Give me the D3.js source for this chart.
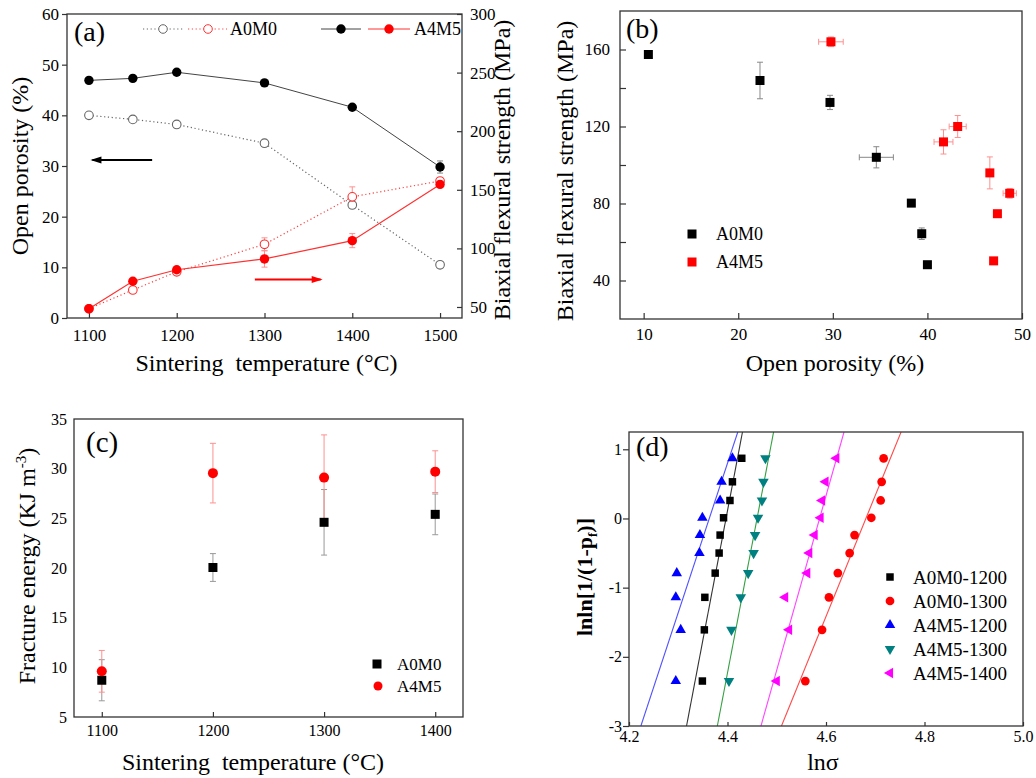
<!DOCTYPE html>
<html><head><meta charset="utf-8">
<script src="https://cdn.jsdelivr.net/npm/d3@7"></script>
<style>body{margin:0;background:#fff} svg{display:block}</style>
</head><body><svg id="c" width="1036" height="778"></svg>
<script>
// ---------- Panel (a) data ----------
const tempsA = [1100, 1150, 1200, 1300, 1400, 1500];
const porA0M0 = [40.0, 39.2, 38.2, 34.5, 22.3, 10.5];
const porA4M5 = [46.9, 47.3, 48.5, 46.4, 41.6, 29.8];
const porA4M5Err = [0, 0, 0, 0, 0, 1.2];
const strA0M0 = [48.5, 64.5, 80.0, 103.5, 144.0, 157.5];
const strA0M0Err = [1, 1.5, 2, 5.5, 8.5, 2.5];
const strA4M5 = [48.5, 72.0, 81.8, 91.0, 106.6, 154.6];
const strA4M5Err = [1, 2, 2, 7, 6, 2];
const ticksAx = [1100, 1200, 1300, 1400, 1500];
const ticksAyL = [0, 10, 20, 30, 40, 50, 60];
const ticksAyR = [50, 100, 150, 200, 250, 300];
const legendA = ["A0M0", "A4M5"];

// ---------- Panel (b) data ----------
const bPorA0M0 = [10.5, 22.3, 29.7, 34.6, 38.3, 39.4, 40.0];
const bStrA0M0 = [157.4, 143.9, 132.5, 104.0, 80.2, 64.3, 48.2];
const bPorErrA0M0 = [0, 0, 0, 1.8, 0, 0, 0];
const bStrErrA0M0 = [0, 9.5, 3.7, 5.5, 0, 3.0, 0];
const bPorA4M5 = [29.8, 41.7, 43.2, 46.6, 48.7, 47.4, 47.0];
const bStrA4M5 = [164.0, 112.0, 120.0, 95.9, 85.3, 74.7, 50.2];
const bPorErrA4M5 = [1.3, 1.0, 0.9, 0, 0.7, 0, 0];
const bStrErrA4M5 = [2.5, 6.3, 5.7, 8.3, 2.5, 0, 0];
const ticksBx = [10, 20, 30, 40, 50];
const ticksBy = [40, 60, 80, 100, 120, 140, 160];
const labelsBy = [40, 80, 120, 160];

// ---------- Panel (c) data ----------
const tempsC = [1100, 1200, 1300, 1400];
const feA0M0 = [8.7, 20.05, 24.6, 25.4];
const feA0M0Err = [2.07, 1.4, 3.3, 2.05];
const feA4M5 = [9.6, 29.55, 29.1, 29.7];
const feA4M5Err = [2.1, 3.0, 4.3, 2.1];
const ticksCx = [1100, 1200, 1300, 1400];
const ticksCy = [5, 10, 15, 20, 25, 30, 35];

// ---------- Panel (d) data ----------
const weibullY = [-2.35, -1.61, -1.14, -0.79, -0.50, -0.24, 0.01, 0.26, 0.53, 0.87];
const lnS_A0M0_1200 = [4.349, 4.353, 4.354, 4.375, 4.383, 4.385, 4.392, 4.405, 4.410, 4.429];
const lnS_A0M0_1300 = [4.558, 4.592, 4.606, 4.624, 4.648, 4.658, 4.692, 4.711, 4.713, 4.717];
const lnS_A4M5_1200 = [4.295, 4.305, 4.295, 4.297, 4.343, 4.344, 4.349, 4.385, 4.388, 4.410];
const lnS_A4M5_1300 = [4.403, 4.408, 4.427, 4.442, 4.453, 4.456, 4.462, 4.470, 4.473, 4.477];
const lnS_A4M5_1400 = [4.500, 4.525, 4.517, 4.562, 4.566, 4.577, 4.589, 4.592, 4.599, 4.621];
const seriesD = ["A0M0-1200", "A0M0-1300", "A4M5-1200", "A4M5-1300", "A4M5-1400"];
const weibullM = [37.4, 17.5, 21.6, 37.2, 25.2];      // fitted slope
const weibullX0 = [4.397, 4.681, 4.363, 4.460, 4.587]; // lnσ at y = 0
const ticksDx = [4.2, 4.4, 4.6, 4.8, 5.0];
const ticksDy = [-3, -2, -1, 0, 1];

// ---------- drawing ----------
const FONT = '"Liberation Serif","Times New Roman",Times,serif';
const svg = d3.select('#c');
svg.append('rect').attr('width', 1036).attr('height', 778).attr('fill', '#fff');

function frame(x0, y0, x1, y1) {
  svg.append('rect').attr('x', x0).attr('y', y0).attr('width', x1 - x0).attr('height', y1 - y0)
    .attr('fill', 'none').attr('stroke', '#333').attr('stroke-width', 1.3);
}
function styleAxis(sel, size) {
  sel.attr('font-family', FONT);
  sel.select('.domain').remove();
  sel.selectAll('.tick line').attr('stroke', '#333').attr('stroke-width', 1.2);
  sel.selectAll('.tick text').attr('font-family', FONT).attr('font-size', size).attr('fill', '#000');
}
function txt(x, y, s, size, opts = {}) {
  const t = svg.append('text').attr('x', x).attr('y', y).attr('font-family', FONT)
    .attr('font-size', size).attr('fill', '#000').style('white-space', 'pre').text(s);
  if (opts.anchor) t.attr('text-anchor', opts.anchor);
  if (opts.rot) t.attr('transform', `rotate(${opts.rot},${x},${y})`);
  if (opts.weight) t.attr('font-weight', opts.weight);
  return t;
}
function vErr(x, yTop, yBot, color, cap = 3) {
  svg.append('line').attr('x1', x).attr('x2', x).attr('y1', yTop).attr('y2', yBot).attr('stroke', color).attr('stroke-width', 1);
  [yTop, yBot].forEach(y => svg.append('line').attr('x1', x - cap).attr('x2', x + cap).attr('y1', y).attr('y2', y).attr('stroke', color).attr('stroke-width', 1));
}
function hErr(xL, xR, y, color, cap = 3) {
  svg.append('line').attr('x1', xL).attr('x2', xR).attr('y1', y).attr('y2', y).attr('stroke', color).attr('stroke-width', 1);
  [xL, xR].forEach(x => svg.append('line').attr('x1', x).attr('x2', x).attr('y1', y - cap).attr('y2', y + cap).attr('stroke', color).attr('stroke-width', 1));
}
function arrow(x1, y1, x2, y2, color) {
  svg.append('line').attr('x1', x1).attr('y1', y1).attr('x2', x2).attr('y2', y2).attr('stroke', color).attr('stroke-width', 2);
  const dir = Math.sign(x2 - x1);
  svg.append('path').attr('d', `M${x2 + dir * 2},${y2} L${x2 - dir * 9},${y2 - 3.5} L${x2 - dir * 9},${y2 + 3.5} Z`).attr('fill', color);
}
const plain = d => String(d);

// ===== Panel (a) =====
{
  const L = 67, R = 462, T = 14, B = 318;
  const x = d3.scaleLinear().domain([1075, 1525]).range([L, R]);
  const yl = d3.scaleLinear().domain([0, 60]).range([B, T]);
  const yr = d3.scaleLinear().domain([40.6, 300]).range([B, T]);

  svg.append('g').attr('transform', `translate(0,${B})`)
    .call(d3.axisBottom(x).tickValues(ticksAx).tickFormat(plain).tickSizeInner(-5).tickSizeOuter(0).tickPadding(11))
    .call(s => styleAxis(s, 17));
  svg.append('g').attr('transform', `translate(${L},0)`)
    .call(d3.axisLeft(yl).tickValues(ticksAyL).tickFormat(plain).tickSizeInner(5).tickSizeOuter(0).tickPadding(3))
    .call(s => styleAxis(s, 17));
  svg.append('g').attr('transform', `translate(${R},0)`)
    .call(d3.axisRight(yr).tickValues(ticksAyR).tickFormat(plain).tickSizeInner(-5).tickSizeOuter(0).tickPadding(8))
    .call(s => styleAxis(s, 17));
  frame(L, T, R, B);

  const lineL = d3.line().x((d, i) => x(tempsA[i])).y(d => yl(d));
  const lineR = d3.line().x((d, i) => x(tempsA[i])).y(d => yr(d));
  svg.append('path').attr('d', lineL(porA0M0)).attr('fill', 'none').attr('stroke', '#666').attr('stroke-width', 1.2).attr('stroke-dasharray', '1.2,2.6');
  svg.append('path').attr('d', lineR(strA0M0)).attr('fill', 'none').attr('stroke', '#ff4040').attr('stroke-width', 1.2).attr('stroke-dasharray', '1.2,2.6');
  svg.append('path').attr('d', lineL(porA4M5)).attr('fill', 'none').attr('stroke', '#444').attr('stroke-width', 1);
  svg.append('path').attr('d', lineR(strA4M5)).attr('fill', 'none').attr('stroke', '#ff3030').attr('stroke-width', 1.2);

  tempsA.forEach((t, i) => {
    if (porA4M5Err[i]) vErr(x(t), yl(porA4M5[i] + porA4M5Err[i]), yl(porA4M5[i] - porA4M5Err[i]), '#888');
    if (strA0M0Err[i]) vErr(x(t), yr(strA0M0[i] + strA0M0Err[i]), yr(strA0M0[i] - strA0M0Err[i]), '#ff9090');
    if (strA4M5Err[i]) vErr(x(t), yr(strA4M5[i] + strA4M5Err[i]), yr(strA4M5[i] - strA4M5Err[i]), '#ff9090');
  });
  tempsA.forEach((t, i) => {
    svg.append('circle').attr('cx', x(t)).attr('cy', yl(porA0M0[i])).attr('r', 4.3).attr('fill', '#fff').attr('stroke', '#666').attr('stroke-width', 1.1);
    svg.append('circle').attr('cx', x(t)).attr('cy', yr(strA0M0[i])).attr('r', 4.3).attr('fill', '#fff').attr('stroke', '#ff3030').attr('stroke-width', 1.1);
    svg.append('circle').attr('cx', x(t)).attr('cy', yl(porA4M5[i])).attr('r', 4.7).attr('fill', '#000');
    svg.append('circle').attr('cx', x(t)).attr('cy', yr(strA4M5[i])).attr('r', 4.7).attr('fill', '#ff0000');
  });

  // arrows
  arrow(x(1172), yl(31.2), x(1104), yl(31.2), '#000');
  arrow(x(1289), yr(73.5), x(1364), yr(73.5), '#ff0000');

  // legend
  const ly = 29;
  svg.append('line').attr('x1', 143).attr('x2', 184).attr('y1', ly).attr('y2', ly).attr('stroke', '#666').attr('stroke-dasharray', '1.2,2.6').attr('stroke-width', 1.2);
  svg.append('circle').attr('cx', 163).attr('cy', ly).attr('r', 4.3).attr('fill', '#fff').attr('stroke', '#666');
  svg.append('line').attr('x1', 188).attr('x2', 227).attr('y1', ly).attr('y2', ly).attr('stroke', '#ff4040').attr('stroke-dasharray', '1.2,2.6').attr('stroke-width', 1.2);
  svg.append('circle').attr('cx', 208).attr('cy', ly).attr('r', 4.3).attr('fill', '#fff').attr('stroke', '#ff3030');
  txt(230, ly + 6, legendA[0], 18);
  svg.append('line').attr('x1', 321).attr('x2', 361).attr('y1', ly).attr('y2', ly).attr('stroke', '#444');
  svg.append('circle').attr('cx', 341).attr('cy', ly).attr('r', 4.7).attr('fill', '#000');
  svg.append('line').attr('x1', 368).attr('x2', 410).attr('y1', ly).attr('y2', ly).attr('stroke', '#ff3030');
  svg.append('circle').attr('cx', 389).attr('cy', ly).attr('r', 4.7).attr('fill', '#ff0000');
  txt(414, ly + 6, legendA[1], 18);

  txt(74, 41, '(a)', 28);
  txt(28, (T + B) / 2, 'Open porosity (%)', 24, { anchor: 'middle', rot: -90 });
  txt(510, (T + B) / 2 + 4, 'Biaxial flexural strength (MPa)', 24, { anchor: 'middle', rot: -90 });
  txt((L + R) / 2 + 2, 371, 'Sintering  temperature (°C)', 24, { anchor: 'middle' });
}

// ===== Panel (b) =====
{
  const L = 620, R = 1022, T = 11, B = 319;
  const x = d3.scaleLinear().domain([7.5, 50]).range([L, R]);
  const y = d3.scaleLinear().domain([20, 180]).range([B, T]);
  svg.append('g').attr('transform', `translate(0,${B})`)
    .call(d3.axisBottom(x).tickValues(ticksBx).tickFormat(plain).tickSizeInner(-6).tickSizeOuter(0).tickPadding(9))
    .call(s => styleAxis(s, 17));
  svg.append('g').attr('transform', `translate(${L},0)`)
    .call(d3.axisLeft(y).tickValues(ticksBy).tickFormat(d => labelsBy.includes(d) ? String(d) : '').tickSizeInner(-6).tickSizeOuter(0).tickPadding(10))
    .call(s => styleAxis(s, 17));
  frame(L, T, R, B);

  const drawSet = (por, str, pe, se, col, ecol) => {
    por.forEach((p, i) => {
      if (se[i]) vErr(x(p), y(str[i] + se[i]), y(str[i] - se[i]), ecol);
      if (pe[i]) hErr(x(p - pe[i]), x(p + pe[i]), y(str[i]), ecol);
    });
    por.forEach((p, i) => {
      svg.append('rect').attr('x', x(p) - 4.5).attr('y', y(str[i]) - 4.5).attr('width', 9).attr('height', 9).attr('fill', col);
    });
  };
  drawSet(bPorA0M0, bStrA0M0, bPorErrA0M0, bStrErrA0M0, '#000', '#888');
  drawSet(bPorA4M5, bStrA4M5, bPorErrA4M5, bStrErrA4M5, '#ff0000', '#ff9090');

  svg.append('rect').attr('x', 687.5).attr('y', 229.5).attr('width', 9).attr('height', 9).attr('fill', '#000');
  svg.append('rect').attr('x', 687.5).attr('y', 257.5).attr('width', 9).attr('height', 9).attr('fill', '#ff0000');
  txt(716, 240, legendA[0], 18);
  txt(716, 268, legendA[1], 18);

  txt(626, 38, '(b)', 28);
  txt(573, (T + B) / 2 + 6, 'Biaxial flexural strength (MPa)', 24, { anchor: 'middle', rot: -90 });
  txt((L + R) / 2 + 14, 371, 'Open porosity (%)', 24, { anchor: 'middle' });
}

// ===== Panel (c) =====
{
  const L = 74, R = 463, T = 419, B = 717;
  const x = d3.scaleLinear().domain([1075, 1425]).range([L, R]);
  const y = d3.scaleLinear().domain([5, 35]).range([B, T]);
  svg.append('g').attr('transform', `translate(0,${B})`)
    .call(d3.axisBottom(x).tickValues(ticksCx).tickFormat(plain).tickSizeInner(-5).tickSizeOuter(0).tickPadding(8))
    .call(s => styleAxis(s, 16));
  svg.append('g').attr('transform', `translate(${L},0)`)
    .call(d3.axisLeft(y).tickValues(ticksCy).tickFormat(plain).tickSizeInner(0).tickSizeOuter(0).tickPadding(7))
    .call(s => styleAxis(s, 16));
  frame(L, T, R, B);

  tempsC.forEach((t, i) => {
    vErr(x(t), y(feA0M0[i] + feA0M0Err[i]), y(feA0M0[i] - feA0M0Err[i]), '#999');
    vErr(x(t), y(feA4M5[i] + feA4M5Err[i]), y(feA4M5[i] - feA4M5Err[i]), '#ff9090');
  });
  tempsC.forEach((t, i) => {
    svg.append('rect').attr('x', x(t) - 4.5).attr('y', y(feA0M0[i]) - 4.5).attr('width', 9).attr('height', 9).attr('fill', '#000');
    svg.append('circle').attr('cx', x(t)).attr('cy', y(feA4M5[i])).attr('r', 5).attr('fill', '#ff0000');
  });

  svg.append('rect').attr('x', 372.5).attr('y', 659.5).attr('width', 9).attr('height', 9).attr('fill', '#000');
  svg.append('circle').attr('cx', 378).attr('cy', 686).attr('r', 4.5).attr('fill', '#ff0000');
  txt(397, 670, legendA[0], 17);
  txt(397, 692, legendA[1], 17);

  txt(86, 452, '(c)', 29);
  const yt = txt(35, (T + B) / 2 - 2, 'Fracture energy (KJ m', 24, { anchor: 'middle', rot: -90 });
  yt.append('tspan').attr('dy', -9).attr('font-size', 15).text('-3');
  yt.append('tspan').attr('dy', 9).text(')');
  txt(253, 770, 'Sintering  temperature (°C)', 24, { anchor: 'middle' });
}

// ===== Panel (d) =====
{
  const L = 629, R = 1023, T = 432, B = 726;
  const x = d3.scaleLinear().domain([4.2, 5.0]).range([L, R]);
  const y = d3.scaleLinear().domain([-3, 1.25]).range([B, T]);
  svg.append('g').attr('transform', `translate(0,${B})`)
    .call(d3.axisBottom(x).tickValues(ticksDx).tickFormat(d => d.toFixed(1)).tickSizeInner(-4).tickSizeOuter(0).tickPadding(5))
    .call(s => styleAxis(s, 16));
  svg.append('g').attr('transform', `translate(${L},0)`)
    .call(d3.axisLeft(y).tickValues(ticksDy).tickFormat(plain).tickSizeInner(6).tickSizeOuter(0).tickPadding(1))
    .call(s => styleAxis(s, 16));

  const xs = [lnS_A0M0_1200, lnS_A0M0_1300, lnS_A4M5_1200, lnS_A4M5_1300, lnS_A4M5_1400];
  const markerCol = ['#000', '#ff0000', '#0000ff', '#008080', '#ff00ff'];
  const lineCol = ['#333', '#ff4a4a', '#5050ff', '#33a040', '#ff44ff'];
  const shapes = [d3.symbolSquare, d3.symbolCircle, d3.symbolTriangle, d3.symbolTriangle, d3.symbolTriangle];
  const rots = [0, 0, 0, 180, -90];
  const sizes = [56, 60, 48, 48, 48];

  svg.append('clipPath').attr('id', 'clipD').append('rect').attr('x', L).attr('y', T).attr('width', R - L).attr('height', B - T);
  const gl = svg.append('g').attr('clip-path', 'url(#clipD)');
  const yEnds = y.domain();
  xs.forEach((arr, k) => {
    const pts = yEnds.map(v => [weibullX0[k] + v / weibullM[k], v]);
    gl.append('path').attr('d', d3.line().x(d => x(d[0])).y(d => y(d[1]))(pts))
      .attr('stroke', lineCol[k]).attr('stroke-width', 1.1).attr('fill', 'none');
  });
  xs.forEach((arr, k) => {
    const sym = d3.symbol().type(shapes[k]).size(sizes[k]);
    arr.forEach((v, i) => {
      svg.append('path').attr('d', sym()).attr('fill', markerCol[k])
        .attr('transform', `translate(${x(v)},${y(weibullY[i])}) rotate(${rots[k]})`);
    });
  });
  frame(L, T, R, B);

  // legend
  const rowsY = [577, 601, 625, 649, 673];
  seriesD.forEach((s, k) => {
    const sym = d3.symbol().type(shapes[k]).size(sizes[k]);
    svg.append('path').attr('d', sym()).attr('fill', markerCol[k])
      .attr('transform', `translate(890,${rowsY[k]}) rotate(${rots[k]})`);
    txt(913, rowsY[k] + 6.5, s, 19);
  });

  txt(636, 456, '(d)', 28);
  txt(823, 770, 'lnσ', 24, { anchor: 'middle' });
  const yt = txt(592, 577, 'lnln[1/(1-p', 22, { anchor: 'middle', rot: -90, weight: 'bold' });
  yt.append('tspan').attr('dy', 5).attr('font-size', 13).text('f');
  yt.append('tspan').attr('dy', -5).text(')]');
}
</script>
</body></html>
